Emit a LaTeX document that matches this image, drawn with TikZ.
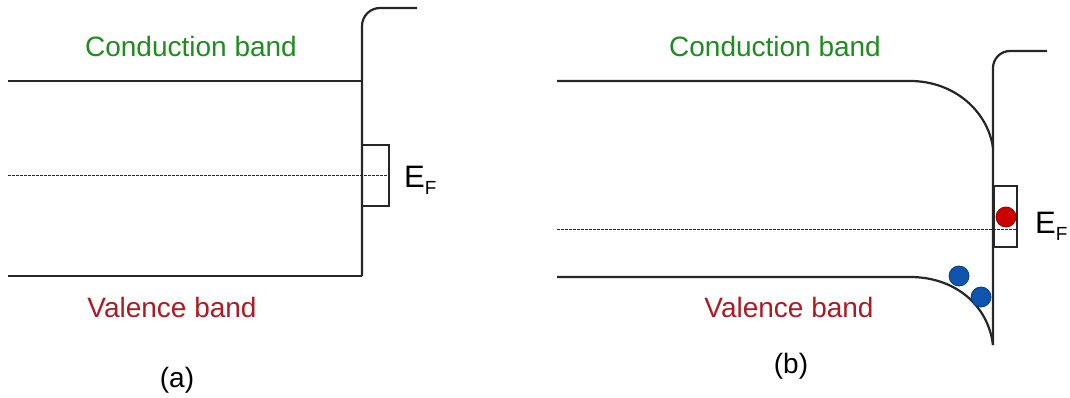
\documentclass[tikz,border=0pt]{standalone}
\usepackage{fontspec}
\setmainfont{Liberation Sans}
\definecolor{cbgreen}{RGB}{30,140,30}
\definecolor{vbred}{RGB}{175,25,35}
\definecolor{holeblue}{RGB}{15,85,175}
\definecolor{elred}{RGB}{205,0,0}
\begin{document}
\begin{tikzpicture}[x=1pt,y=-1pt,
  band/.style={line width=2.2pt,black!85},
  fermi/.style={line width=1pt,dash pattern=on 2.5pt off 1.5pt,black!85},
  lvlbox/.style={line width=2.2pt,black!85},
  lbl/.style={font=\fontsize{28}{30}\selectfont,inner sep=0pt},
  efl/.style={font=\fontsize{31}{33}\selectfont,inner sep=0pt,anchor=base west},
  panellbl/.style={font=\fontsize{28}{30}\selectfont,inner sep=0pt},
  dot/.style={circle,inner sep=0pt,minimum size=20pt,draw=#1!70!black,fill=#1,line width=0.8pt}]
\useasboundingbox (0,0) rectangle (1070,398);
% ---------- panel (a) ----------
\draw[band] (8,81) -- (362,81);
\draw[band] (8,276) -- (362,276);
\draw[band,rounded corners=18pt] (362,276) -- (362,8) -- (417,8);
\draw[fermi] (8,176) -- (389,176);
\draw[lvlbox] (362,145) rectangle (389,206);
\node[lbl,text=cbgreen] (cba) at (191,46) {Conduction band};
\node[lbl,text=vbred] (vba) at (172,307) {Valence band};
\node[efl] (efa) at (404,187) {E\raisebox{-8pt}{\fontsize{19}{20}\selectfont F}};
\node[panellbl] (capa) at (177,380) {(a)};
% ---------- panel (b) ----------
\draw[band] (557,81) -- (910,81) .. controls (955,81) and (988,112) .. (993,148);
\draw[band] (557,277) -- (910,277) .. controls (955,277) and (988,305) .. (993,345);
\draw[band,rounded corners=17pt] (993,345) -- (993,51) -- (1047,51);
\draw[fermi] (557,229) -- (1017,229);
\draw[lvlbox] (994,186) rectangle (1017,247);
\node[dot=elred] (el) at (1006,217) {};
\node[dot=holeblue] (h1) at (959,276) {};
\node[dot=holeblue] (h2) at (981,297) {};
\node[lbl,text=cbgreen] (cbb) at (775,46) {Conduction band};
\node[lbl,text=vbred] (vbb) at (789,307) {Valence band};
\node[efl] (efb) at (1035,233) {E\raisebox{-8pt}{\fontsize{19}{20}\selectfont F}};
\node[panellbl] (capb) at (791,366) {(b)};
\end{tikzpicture}
\end{document}
